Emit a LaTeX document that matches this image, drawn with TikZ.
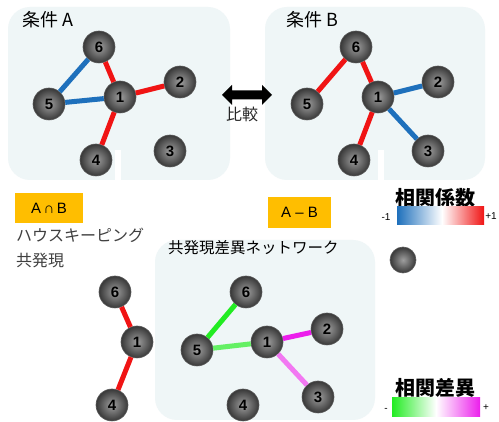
\documentclass[tikz,border=0pt]{standalone}
\usepackage{fontspec}
\setmainfont{Liberation Sans}
\newfontfamily\jp{Noto Sans CJK JP}
\definecolor{panelbg}{RGB}{239,246,247}
\definecolor{ered}{RGB}{240,20,20}
\definecolor{eblue}{RGB}{30,112,188}
\definecolor{egreen}{RGB}{34,236,34}
\definecolor{elgreen}{RGB}{100,240,100}
\definecolor{emag}{RGB}{236,30,236}
\definecolor{epink}{RGB}{242,120,242}
\definecolor{orangebox}{RGB}{255,190,0}
\tikzset{
  panel/.style={fill=panelbg, draw=none, rounded corners=22pt},
  ball/.style={circle, minimum size=32pt, inner sep=0pt, shading=radial,
    inner color=black!38, outer color=black!78, draw=black!65, line width=0.6pt,
    font=\bfseries\fontsize{15}{15}\selectfont},
  edge/.style={line width=5pt},
  title/.style={anchor=west, inner sep=0pt, font=\jp\fontsize{18}{18}\selectfont},
  jtext/.style={anchor=west, inner sep=0pt, font=\jp\fontsize{16}{16}\selectfont, text=black!75},
  tag/.style={fill=orangebox, inner sep=0pt, font=\fontsize{15}{15}\selectfont},
  legtitle/.style={inner sep=0pt, font=\jp\bfseries\fontsize{20}{20}\selectfont},
  small/.style={inner sep=0pt, font=\fontsize{10}{10}\selectfont}
}
\begin{document}
\begin{tikzpicture}[x=1pt,y=-1pt]
\useasboundingbox (0,0) rectangle (499,422);
\fill[white] (0,0) rectangle (499,422);
% panels
\fill[panel] (8,7) rectangle (230,180);
\fill[panel] (265,7) rectangle (485,180);
\fill[panel] (155,240) rectangle (375,420);
\fill[white] (115,150) rectangle (121,181);
\fill[white] (378,150) rectangle (384,181);
% titles
\node[title] (tA) at (22,20) {条件 A};
\node[title] (tB) at (286,20) {条件 B};
% panel A
\node[ball] (a6) at (99,47) {6};
\node[ball] (a1) at (120,97) {1};
\node[ball] (a2) at (180,82) {2};
\node[ball] (a5) at (49,104) {5};
\node[ball] (a4) at (96,160) {4};
\node[ball] (a3) at (170,151) {3};
\draw[edge, eblue] (a6) -- (a5);
\draw[edge, eblue] (a5) -- (a1);
\draw[edge, ered] (a6) -- (a1);
\draw[edge, ered] (a1) -- (a2);
\draw[edge, ered] (a1) -- (a4);
% panel B
\node[ball] (b6) at (356,47) {6};
\node[ball] (b1) at (378,97) {1};
\node[ball] (b2) at (438,82) {2};
\node[ball] (b5) at (307,104) {5};
\node[ball] (b4) at (354,160) {4};
\node[ball] (b3) at (428,151) {3};
\draw[edge, ered] (b6) -- (b5);
\draw[edge, ered] (b6) -- (b1);
\draw[edge, eblue] (b1) -- (b2);
\draw[edge, eblue] (b1) -- (b3);
\draw[edge, ered] (b1) -- (b4);
% compare arrow
\fill[black] (222,95) -- (232,85) -- (232,90.5) -- (262,90.5) -- (262,85) -- (272,95)
  -- (262,105) -- (262,99.5) -- (232,99.5) -- (232,105) -- cycle;
\node[inner sep=0pt, font=\jp\fontsize{16}{16}\selectfont, text=black!85] (cmp) at (242,114) {比較};
% A cap B
\node[tag, minimum width=68pt, minimum height=30pt] (ab) at (49,208) {A\,∩\,B};
\node[jtext] (hk) at (16,235) {ハウスキーピング};
\node[jtext] (kh) at (16,260) {共発現};
\node[ball] (c6) at (115,292) {6};
\node[ball] (c1) at (137,342) {1};
\node[ball] (c4) at (112,405) {4};
\draw[edge, ered] (c6) -- (c1);
\draw[edge, ered] (c1) -- (c4);
% A - B
\node[tag, minimum width=63pt, minimum height=31pt] (amb) at (299.5,212.5) {A – B};
\node[anchor=west, inner sep=0pt, font=\jp\fontsize{15.5}{15.5}\selectfont] (tC) at (168,248) {共発現差異ネットワーク};
\node[ball] (d6) at (246,292) {6};
\node[ball] (d5) at (197,350) {5};
\node[ball] (d1) at (267,342) {1};
\node[ball] (d2) at (327,329) {2};
\node[ball] (d3) at (318,397) {3};
\node[ball] (d4) at (243,405) {4};
\draw[edge, egreen] (d6) -- (d5);
\draw[edge, elgreen] (d5) -- (d1);
\draw[edge, emag] (d1) -- (d2);
\draw[edge, epink] (d1) -- (d3);
% lone node
\node[ball, minimum size=26pt] (lone) at (403,260) {};
% legend 1
\node[legtitle] (l1) at (435,198) {相関係数};
\shade[left color=eblue, right color=white] (397,207) rectangle (442,225);
\shade[left color=white, right color=ered] (442,207) rectangle (484,225);
\node[small] (m1) at (386,217) {-1};
\node[small] (p1) at (491,216) {+1};
% legend 2
\node[legtitle] (l2) at (435,388) {相関差異};
\shade[left color=egreen, right color=white] (392,398) rectangle (436,417);
\shade[left color=white, right color=emag] (436,398) rectangle (480,417);
\node[small] (m2) at (386,410) {-};
\node[small] (p2) at (486,408) {+};
\end{tikzpicture}
\end{document}
